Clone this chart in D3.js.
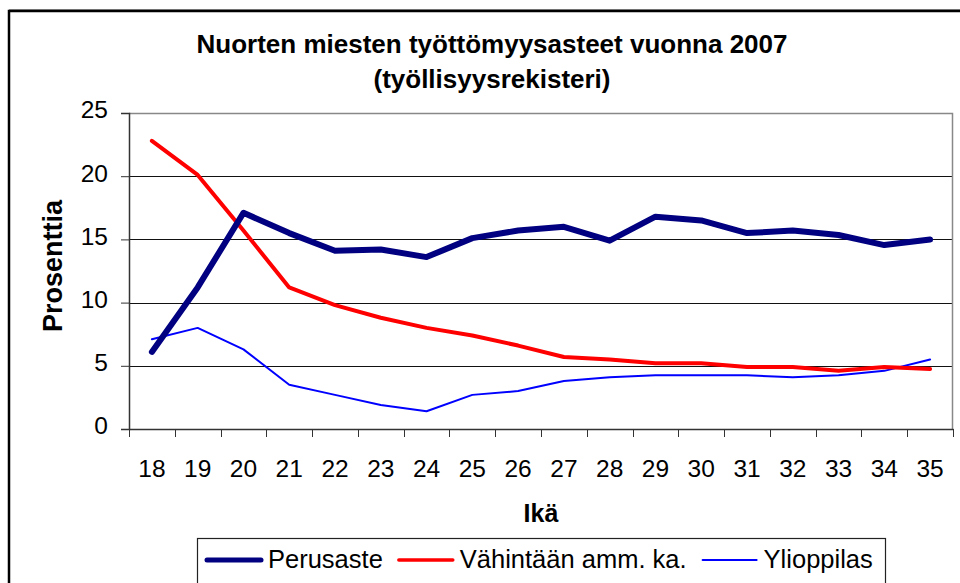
<!DOCTYPE html>
<html>
<head>
<meta charset="utf-8">
<script src="https://cdn.jsdelivr.net/npm/d3@7"></script>
<style>
  body { margin: 0; background: #fff; }
  svg { display: block; font-family: "Liberation Sans", Arial, sans-serif; }
</style>
</head>
<body>
<div id="chart"></div>
<script>
var svgWidth = 960;
var svgHeight = 583;

// data
var ages = ["18", "19", "20", "21", "22", "23", "24", "25", "26", "27", "28", "29", "30", "31", "32", "33", "34", "35"];
var perusaste = [6.1, 11.2, 17.1, 15.5, 14.1, 14.2, 13.6, 15.1, 15.7, 16.0, 14.9, 16.8, 16.5, 15.5, 15.7, 15.35, 14.55, 15.0];
var vahintaan = [22.8, 20.1, 15.7, 11.2, 9.8, 8.8, 8.0, 7.4, 6.6, 5.7, 5.5, 5.2, 5.2, 4.9, 4.9, 4.6, 4.9, 4.75];
var ylioppilas = [7.1, 8.0, 6.3, 3.5, 2.7, 1.9, 1.4, 2.7, 3.0, 3.8, 4.1, 4.25, 4.25, 4.25, 4.1, 4.25, 4.6, 5.5];
var seriesNames = ["Perusaste", "Vähintään amm. ka.", "Ylioppilas"];
var yTicks = [0, 5, 10, 15, 20, 25];

var series = [
  { name: seriesNames[0], values: perusaste, color: "#000080", width: 6 },
  { name: seriesNames[1], values: vahintaan, color: "#ff0000", width: 4 },
  { name: seriesNames[2], values: ylioppilas, color: "#0000ff", width: 2 }
];

var chartMargin = { top: 113, left: 129, right: 7, bottom: 154 };
var chartWidth = svgWidth - chartMargin.left - chartMargin.right;
var chartHeight = svgHeight - chartMargin.top - chartMargin.bottom;

var svg = d3.select("#chart")
  .append("svg")
  .attr("width", svgWidth)
  .attr("height", svgHeight);

// outer chart frame
svg.append("line")
  .attr("x1", 9).attr("x2", svgWidth).attr("y1", 9.5).attr("y2", 9.5)
  .attr("stroke", "#999").attr("stroke-width", 1);
svg.append("rect")
  .attr("x", 9).attr("y", 11).attr("width", svgWidth + 20).attr("height", svgHeight + 20)
  .attr("fill", "none").attr("stroke", "#000").attr("stroke-width", 2.5);

// title
var title = svg.append("text")
  .attr("text-anchor", "middle")
  .attr("font-weight", "bold")
  .attr("font-size", "26px");
title.append("tspan").attr("x", 492).attr("y", 53).text("Nuorten miesten työttömyysasteet vuonna 2007");
title.append("tspan").attr("x", 492).attr("y", 88).text("(työllisyysrekisteri)");

var chartGroup = svg.append("g")
  .attr("transform", `translate(${chartMargin.left}, ${chartMargin.top})`);

var xScale = d3.scaleBand()
  .domain(ages)
  .range([0, chartWidth]);

var yScale = d3.scaleLinear()
  .domain([0, 25])
  .range([chartHeight, 0]);

// gridlines
chartGroup.append("g")
  .selectAll("line")
  .data(yTicks.filter(d => d > 0 && d < 25))
  .enter()
  .append("line")
  .attr("x1", 0).attr("x2", chartWidth)
  .attr("y1", d => Math.round(yScale(d)) + 0.5)
  .attr("y2", d => Math.round(yScale(d)) + 0.5)
  .attr("stroke", "#111");

// plot border top + right
chartGroup.append("path")
  .attr("d", `M0,0.5H${chartWidth - 0.5}V${chartHeight}`)
  .attr("fill", "none")
  .attr("stroke", "#888")
  .attr("stroke-width", 1.5);

// y axis
var leftAxis = d3.axisLeft(yScale).tickValues(yTicks).tickSize(8).tickPadding(13);
var yAxis = chartGroup.append("g").call(leftAxis);
yAxis.select(".domain").attr("stroke", "#333").attr("stroke-width", 1.5);
yAxis.selectAll(".tick line").attr("stroke", "#333");
yAxis.selectAll("text")
  .attr("font-size", "24.5px")
  .attr("font-family", "Liberation Sans, Arial, sans-serif")
  .attr("fill", "#000")
  .attr("dy", "0.2em");

// x axis labels
var bottomAxis = d3.axisBottom(xScale).tickSize(0).tickPadding(31);
var xAxis = chartGroup.append("g")
  .attr("transform", `translate(0, ${chartHeight})`)
  .call(bottomAxis);
xAxis.select(".domain").attr("stroke", "#333").attr("stroke-width", 1.5);
xAxis.selectAll("text")
  .attr("font-size", "24.5px")
  .attr("font-family", "Liberation Sans, Arial, sans-serif")
  .attr("fill", "#000");

// x ticks at category boundaries
var edges = ages.map(d => xScale(d)).concat([chartWidth]);
xAxis.append("g")
  .selectAll("line")
  .data(edges)
  .enter()
  .append("line")
  .attr("x1", d => Math.round(d) + 0.5)
  .attr("x2", d => Math.round(d) + 0.5)
  .attr("y1", 0).attr("y2", 8)
  .attr("stroke", "#333");

// lines
var lineGen = d3.line()
  .x((d, i) => xScale(ages[i]) + xScale.bandwidth() / 2)
  .y(d => yScale(d));

chartGroup.selectAll(".series")
  .data(series.slice().reverse())
  .enter()
  .append("path")
  .attr("class", "series")
  .attr("d", d => lineGen(d.values))
  .attr("fill", "none")
  .attr("stroke", d => d.color)
  .attr("stroke-width", d => d.width)
  .attr("stroke-linejoin", "round")
  .attr("stroke-linecap", "round");

// axis titles
svg.append("text")
  .attr("transform", "translate(62, 266) rotate(-90)")
  .attr("text-anchor", "middle")
  .attr("font-weight", "bold")
  .attr("font-size", "27px")
  .text("Prosenttia");

svg.append("text")
  .attr("x", chartMargin.left + chartWidth / 2)
  .attr("y", 522)
  .attr("text-anchor", "middle")
  .attr("font-weight", "bold")
  .attr("font-size", "25px")
  .text("Ikä");

// legend
svg.append("rect")
  .attr("x", 197.5).attr("y", 538.5)
  .attr("width", 688).attr("height", 80)
  .attr("fill", "#fff")
  .attr("stroke", "#222")
  .attr("stroke-width", 1.2);

var legendX = 205;
series.forEach(function(s) {
  svg.append("line")
    .attr("x1", legendX + 2).attr("x2", legendX + 56)
    .attr("y1", 560).attr("y2", 560)
    .attr("stroke", s.color)
    .attr("stroke-width", s.width === 6 ? 5 : s.width === 4 ? 3.5 : 2)
    .attr("stroke-linecap", "round");
  var t = svg.append("text")
    .attr("x", legendX + 63)
    .attr("y", 567.5)
    .attr("font-size", "25.5px")
    .text(s.name);
  legendX = legendX + 63 + t.node().getComputedTextLength() + 14;
});
</script>
</body>
</html>
